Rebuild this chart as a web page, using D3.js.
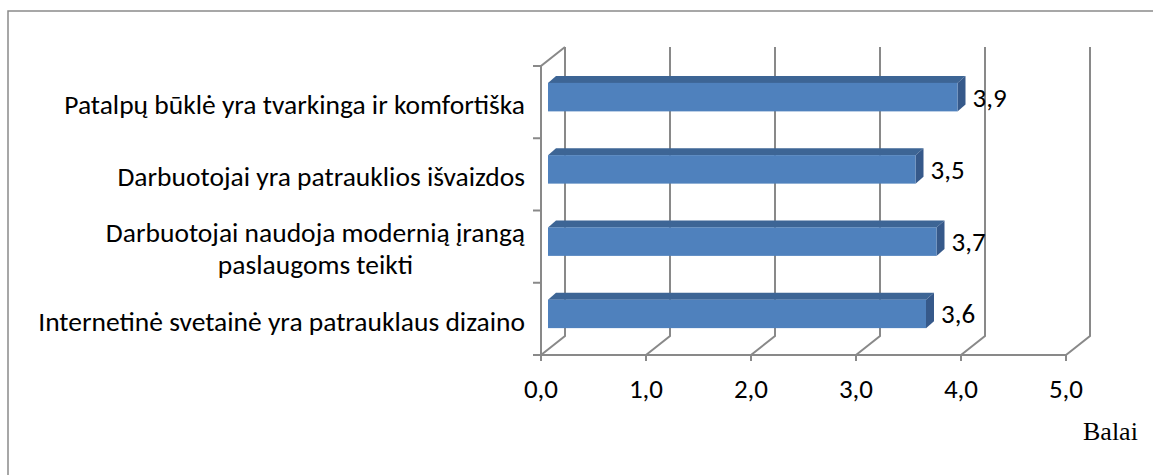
<!DOCTYPE html>
<html>
<head>
<meta charset="utf-8">
<script src="https://cdn.jsdelivr.net/npm/d3@7"></script>
<style>
  html, body { margin: 0; padding: 0; background: #fff; }
  svg { display: block; }
  .lbl { font-family: Carlito, "Liberation Sans Narrow", "Liberation Sans", Arial, sans-serif; fill: #000; }
</style>
</head>
<body>
<svg id="chart" width="1153" height="475"></svg>
<script>
// categories listed top to bottom, each as its text lines
const categories = [
    ['Patalpų būklė yra tvarkinga ir komfortiška'],
    ['Darbuotojai yra patrauklios išvaizdos'],
    ['Darbuotojai naudoja modernią įrangą', 'paslaugoms teikti'],
    ['Internetinė svetainė yra patrauklaus dizaino']
]
const values = [3.9, 3.5, 3.7, 3.6]
const xTicks = [0, 1, 2, 3, 4, 5]
const axisTitle = 'Balai'

const svg = d3.select('#chart')
const W = 1153, H = 475

// 3d look
const depth = { dx: 24, dy: -19 }
const barOff = { dx: 7, dy: -5 }
const barDepth = { dx: 8, dy: -7 }
const gridColor = '#898989'

const x = d3.scaleLinear().domain([0, 5]).range([541, 1066])
const y = d3.scaleBand().domain(d3.range(categories.length)).range([66, 355]).padding(0)
const fmt = v => d3.format('.1f')(v).replace('.', ',')

// outer chart border (only top and left are visible)
svg.append('path')
    .attr('d', `M8,${H} L8,11 L${W},11`)
    .attr('fill', 'none')
    .attr('stroke', '#8a8a8a')
    .attr('stroke-width', 1.5)

const grid = svg.append('g').attr('fill', 'none').attr('stroke', gridColor).attr('stroke-width', 2)
const y0 = y.range()[0], y1 = y.range()[1]

// back wall gridlines + floor diagonals
xTicks.forEach(t => {
    grid.append('path')
        .attr('d', `M${x(t)},${y1} L${x(t) + depth.dx},${y1 + depth.dy} L${x(t) + depth.dx},${y0 + depth.dy}`)
    grid.append('line')
        .attr('x1', x(t)).attr('x2', x(t))
        .attr('y1', y1).attr('y2', y1 + 6)
})

// left wall
grid.append('path')
    .attr('d', `M${x(0)},${y1} L${x(0)},${y0} L${x(0) + depth.dx},${y0 + depth.dy}`)
// floor front edge
grid.append('line')
    .attr('x1', x(0) - 8).attr('x2', x(5))
    .attr('y1', y1).attr('y2', y1)
// category ticks
d3.range(categories.length + 1).forEach(i => {
    let yy = y0 + i * y.bandwidth()
    grid.append('line')
        .attr('x1', x(0) - 8).attr('x2', x(0))
        .attr('y1', yy).attr('y2', yy)
})

// bars
const barH = 28.5
const bars = svg.append('g')
values.forEach((v, i) => {
    let cy = y(i) + y.bandwidth() / 2 + barOff.dy
    let xa = x(0) + barOff.dx
    let xb = x(v) + barOff.dx
    let yt = cy - barH / 2
    let yb = cy + barH / 2
    let g = bars.append('g')
    g.append('polygon')
        .attr('points', [[xa, yt], [xa + barDepth.dx, yt + barDepth.dy], [xb + barDepth.dx, yt + barDepth.dy], [xb, yt]].join(' '))
        .attr('fill', '#3d6595')
    g.append('polygon')
        .attr('points', [[xb, yt], [xb + barDepth.dx, yt + barDepth.dy], [xb + barDepth.dx, yb + barDepth.dy], [xb, yb]].join(' '))
        .attr('fill', '#36598a')
    g.append('rect')
        .attr('x', xa).attr('y', yt)
        .attr('width', xb - xa).attr('height', barH)
        .attr('fill', '#4f81bd')

    // value label
    svg.append('text')
        .attr('class', 'lbl')
        .attr('x', xb + barDepth.dx + 7)
        .attr('y', cy)
        .attr('dy', '0.35em')
        .attr('font-size', 27)
        .text(fmt(v))
})

// category labels
categories.forEach((lines, i) => {
    let cy = y(i) + y.bandwidth() / 2 + 2
    let t = svg.append('text')
        .attr('class', 'lbl')
        .attr('font-size', 27.5)
        .attr('text-anchor', 'middle')
    let lh = 32
    lines.forEach((ln, j) => {
        t.append('tspan')
            .attr('x', 0)
            .attr('y', cy + (j - (lines.length - 1) / 2) * lh)
            .attr('dy', '0.35em')
            .text(ln)
    })
    // right-align the block, lines centred inside it
    let w = t.node().getBBox().width
    t.attr('transform', `translate(${525 - w / 2},0)`)
})

// x tick labels
xTicks.forEach(t => {
    svg.append('text')
        .attr('class', 'lbl')
        .attr('x', x(t))
        .attr('y', 398)
        .attr('text-anchor', 'middle')
        .attr('font-size', 27)
        .text(fmt(t))
})

svg.append('text')
    .attr('x', 1083)
    .attr('y', 440)
    .attr('font-family', '"Liberation Serif", "Times New Roman", serif')
    .attr('font-size', 26)
    .attr('fill', '#000')
    .text(axisTitle)
</script>
</body>
</html>
